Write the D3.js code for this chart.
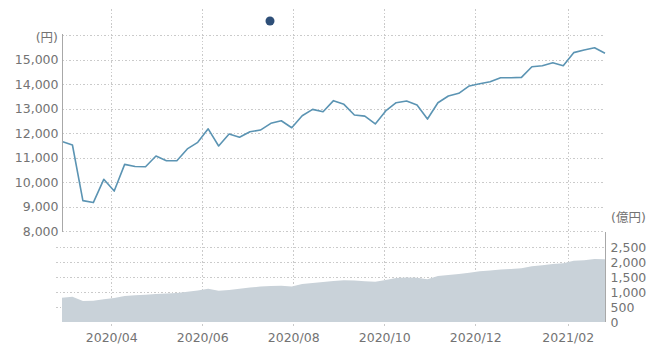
<!DOCTYPE html>
<html>
<head>
<meta charset="utf-8">
<script src="https://cdn.jsdelivr.net/npm/d3@7"></script>
<style>
  body { margin: 0; background: #fff; }
  text { font-family: "DejaVu Sans", "Noto Sans CJK JP", sans-serif; font-size: 12.5px; fill: #737373; }
  .grid line { stroke: #cacaca; stroke-dasharray: 1.5,2; shape-rendering: crispEdges; }
</style>
</head>
<body>
<div id="chart"></div>
<script>
// weekly closes, first week ending 2020-02-28
const start_date = "2020-02-28";
const price = [
    11650, 11510, 9240, 9160, 10110, 9630, 10720, 10630, 10625, 11060,
    10870, 10870, 11350, 11620, 12170, 11470, 11960, 11825, 12050, 12120,
    12395, 12500, 12215, 12705, 12965, 12870, 13320, 13170, 12735, 12690,
    12370, 12900, 13235, 13305, 13140, 12570, 13235, 13510, 13620, 13920,
    14010, 14090, 14255, 14255, 14270, 14705, 14745, 14870, 14745, 15280,
    15390, 15480, 15255
];
const assets = [
    810, 843, 700, 705, 760, 800, 865, 890, 910, 930,
    950, 970, 1010, 1050, 1110, 1045, 1070, 1110, 1150, 1180,
    1200, 1210, 1180, 1270, 1300, 1330, 1370, 1395, 1380, 1360,
    1345, 1400, 1470, 1480, 1475, 1425, 1530, 1570, 1600, 1640,
    1695, 1720, 1750, 1770, 1790, 1860, 1890, 1930, 1955, 2040,
    2060, 2100, 2090
];
const month_ticks = ["2020-04-01", "2020-06-01", "2020-08-01", "2020-10-01", "2020-12-01", "2021-02-01"];
const price_ticks = [8000, 9000, 10000, 11000, 12000, 13000, 14000, 15000];
const price_grid = [8000, 9000, 10000, 11000, 12000, 13000, 14000, 15000, 16000];
const asset_ticks = [0, 500, 1000, 1500, 2000, 2500];

let svg_width = 658, svg_height = 360;
let left = 62, right = 605;

const parse = d3.timeParse("%Y-%m-%d");
const t0 = parse(start_date);
const dates = price.map((_, i) => d3.timeDay.offset(t0, 7 * i));

let x = d3.scaleTime()
    .domain([dates[0], dates[dates.length - 1]])
    .range([left, right]);
let y = d3.scaleLinear()
    .domain([8000, 16000])
    .range([231, 35]);
let y2 = d3.scaleLinear()
    .domain([0, 3000])
    .range([322, 232]);

let svg = d3.select("#chart").append("svg")
    .attr("width", svg_width)
    .attr("height", svg_height);

// gridlines
let grid = svg.append("g").attr("class", "grid");
grid.selectAll(".vg")
    .data(month_ticks.map(parse))
    .enter().append("line")
    .attr("x1", d => Math.round(x(d)) + 0.5)
    .attr("x2", d => Math.round(x(d)) + 0.5)
    .attr("y1", 9)
    .attr("y2", 327);
grid.selectAll(".hg")
    .data(price_grid)
    .enter().append("line")
    .attr("x1", left)
    .attr("x2", right)
    .attr("y1", d => Math.round(y(d)) + 0.5)
    .attr("y2", d => Math.round(y(d)) + 0.5);
grid.selectAll(".hg2")
    .data(asset_ticks.filter(d => d > 0))
    .enter().append("line")
    .attr("x1", 56)
    .attr("x2", right)
    .attr("y1", d => Math.round(y2(d)) + 0.5)
    .attr("y2", d => Math.round(y2(d)) + 0.5);

// net assets area
svg.append("path")
    .datum(assets)
    .attr("fill", "#c9d2d9")
    .attr("d", d3.area()
        .x((_, i) => x(dates[i]))
        .y0(y2(0))
        .y1(v => y2(v)));

// price line
svg.append("path")
    .datum(price)
    .attr("fill", "none")
    .attr("stroke", "#5b94b3")
    .attr("stroke-width", 1.6)
    .attr("stroke-linejoin", "round")
    .attr("d", d3.line()
        .x((_, i) => x(dates[i]))
        .y(v => y(v)));

// left axis
let y_axis = svg.append("g")
    .attr("transform", "translate(" + (left + 0.5) + ",0)")
    .call(d3.axisLeft(y).tickValues(price_ticks).tickSize(0).tickPadding(4)
        .tickFormat(d3.format(",")));
y_axis.select(".domain").attr("stroke", "#a8a8a8").attr("d", "M0,34V232");
y_axis.selectAll("text").attr("fill", "#737373");
svg.append("text")
    .attr("x", 58).attr("y", 38)
    .attr("text-anchor", "end").attr("dy", "0.32em")
    .text("(円)");

// right axis
let y2_axis = svg.append("g")
    .attr("transform", "translate(" + (right + 0.5) + ",0)")
    .call(d3.axisRight(y2).tickValues(asset_ticks).tickSize(0).tickPadding(5)
        .tickFormat(d3.format(",")));
y2_axis.select(".domain").attr("stroke", "#a8a8a8").attr("d", "M0,232V322");
y2_axis.selectAll("text").attr("fill", "#737373");
svg.append("text")
    .attr("x", 611).attr("y", 218)
    .attr("dy", "0.32em")
    .text("(億円)");

// bottom axis labels
let x_axis = svg.append("g")
    .attr("transform", "translate(0,322)")
    .call(d3.axisBottom(x).tickValues(month_ticks.map(parse)).tickSize(0).tickPadding(11)
        .tickFormat(d3.timeFormat("%Y/%m")));
x_axis.select(".domain").remove();
x_axis.selectAll("text").attr("fill", "#737373");

// legend marker
svg.append("circle")
    .attr("cx", 270).attr("cy", 21).attr("r", 4.5)
    .attr("fill", "#2e4f78");
</script>
</body>
</html>
